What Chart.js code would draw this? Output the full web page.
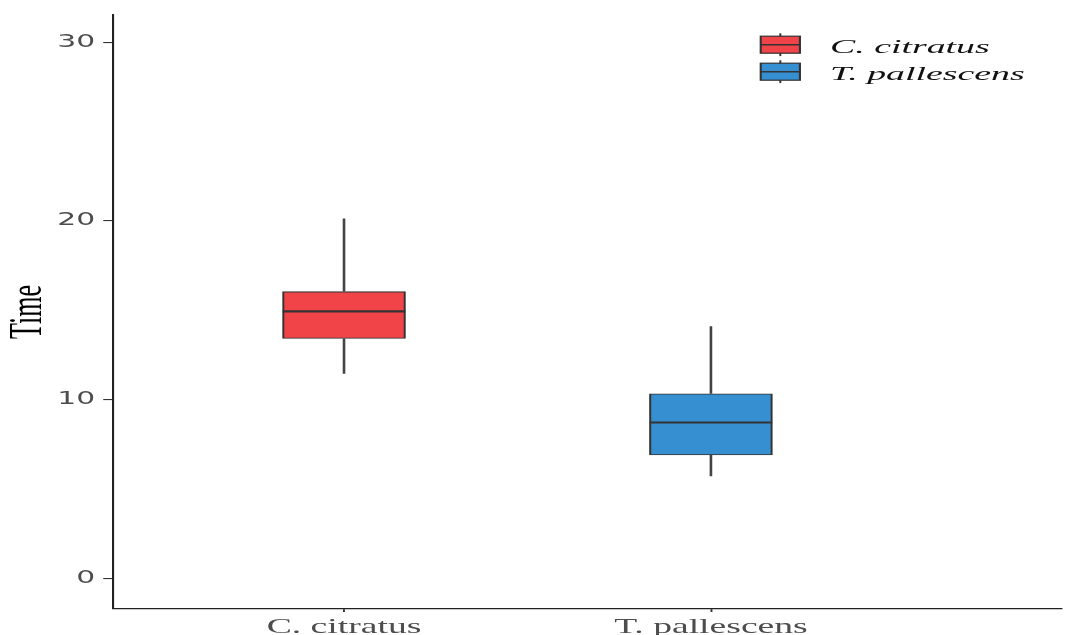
<!DOCTYPE html>
<html>
<head>
<meta charset="utf-8">
<script src="https://cdn.jsdelivr.net/npm/chart.js@4/dist/chart.umd.min.js"></script>
<style>
  html, body { margin: 0; padding: 0; background: #ffffff; }
  canvas { display: block; }
</style>
</head>
<body>
<canvas id="chart" width="1065" height="635"></canvas>
<script>
// Box-plot summaries for each species
const species      = ['C. citratus', 'T. pallescens'];
const positions    = [1, 2];
const whiskerLow   = [11.44, 5.70];
const quartile1    = [13.41, 6.89];
const medians      = [14.93, 8.71];
const quartile3    = [16.04, 10.32];
const whiskerHigh  = [20.13, 14.09];
const boxColors    = ['#F04448', '#368FD0'];
const yTicks       = [0, 10, 20, 30];

// The whole figure is drawn with a horizontal stretch
const STRETCH = 1.75;
const SERIF = "'Liberation Serif', 'Times New Roman', serif";
const SANS  = "'DejaVu Sans', Verdana, sans-serif";
const LINE  = '#333333';

// Legend layout (in unstretched units)
const LEGEND = { x: 434.7, w: 22.4, h: 17, top: 44.7, gap: 27, stub: 11.4, textX: 474.3, baseline: 8.3 };

const stretchPlugin = {
  id: 'stretch',
  beforeDraw(chart) {
    chart.ctx.save();
    chart.ctx.setTransform(STRETCH, 0, 0, 1, 0, 0);
  },
  afterDraw(chart) {
    drawLegend(chart);
    chart.ctx.restore();
  }
};

const boxPlugin = {
  id: 'boxParts',
  beforeDatasetsDraw(chart) {
    const ctx = chart.ctx, ys = chart.scales.y;
    ctx.save();
    ctx.strokeStyle = '#444444';
    ctx.lineWidth = 1.5;
    species.forEach((_, i) => {
      const bar = chart.getDatasetMeta(i).data[0];
      ctx.beginPath();
      ctx.moveTo(bar.x, ys.getPixelForValue(quartile3[i]));
      ctx.lineTo(bar.x, ys.getPixelForValue(whiskerHigh[i]));
      ctx.moveTo(bar.x, ys.getPixelForValue(quartile1[i]));
      ctx.lineTo(bar.x, ys.getPixelForValue(whiskerLow[i]));
      ctx.stroke();
    });
    ctx.restore();
  },
  afterDatasetsDraw(chart) {
    const ctx = chart.ctx, ys = chart.scales.y;
    ctx.save();
    ctx.strokeStyle = LINE;
    ctx.lineWidth = 2.2;
    species.forEach((_, i) => {
      const bar = chart.getDatasetMeta(i).data[0];
      const half = bar.width / 2;
      const py = ys.getPixelForValue(medians[i]);
      ctx.beginPath();
      ctx.moveTo(bar.x - half, py);
      ctx.lineTo(bar.x + half, py);
      ctx.stroke();
    });
    ctx.restore();
  }
};

function drawLegend(chart) {
  const ctx = chart.ctx;
  species.forEach((name, i) => {
    const cy = LEGEND.top + i * LEGEND.gap;
    const cx = LEGEND.x + LEGEND.w / 2;
    ctx.save();
    ctx.strokeStyle = LINE;
    ctx.lineWidth = 1.1;
    ctx.beginPath();
    ctx.moveTo(cx, cy - LEGEND.stub);
    ctx.lineTo(cx, cy + LEGEND.stub);
    ctx.stroke();
    ctx.fillStyle = boxColors[i];
    ctx.fillRect(LEGEND.x, cy - LEGEND.h / 2, LEGEND.w, LEGEND.h);
    ctx.lineWidth = 1.2;
    ctx.strokeRect(LEGEND.x, cy - LEGEND.h / 2, LEGEND.w, LEGEND.h);
    ctx.lineWidth = 1.6;
    ctx.beginPath();
    ctx.moveTo(LEGEND.x, cy);
    ctx.lineTo(LEGEND.x + LEGEND.w, cy);
    ctx.stroke();
    ctx.translate(LEGEND.textX, cy + LEGEND.baseline);
    ctx.scale(1.2, 1);
    ctx.font = "italic 18px " + SERIF;
    ctx.fillStyle = '#111111';
    ctx.textBaseline = 'alphabetic';
    ctx.textAlign = 'left';
    ctx.fillText(name, 0, 0);
    ctx.restore();
  });
}

const datasets = species.map((name, i) => ({
  label: name,
  data: [{ x: positions[i], y: [quartile1[i], quartile3[i]] }],
  backgroundColor: boxColors[i],
  borderColor: LINE,
  borderWidth: 1.2,
  borderSkipped: false,
  grouped: false,
  barThickness: 70
}));

new Chart(document.getElementById('chart'), {
  type: 'bar',
  data: { datasets },
  plugins: [stretchPlugin, boxPlugin],
  options: {
    responsive: false,
    animation: false,
    devicePixelRatio: 1,
    layout: { padding: { left: 0, top: 12, right: 458.1, bottom: 0 } },
    plugins: { legend: { display: false }, tooltip: { enabled: false }, title: { display: false } },
    scales: {
      x: {
        type: 'linear',
        min: 0.371,
        max: 2.957,
        offset: false,
        afterBuildTicks: s => { s.ticks = positions.map(v => ({ value: v })); },
        afterFit: s => { s.height = 26; },
        grid: { display: true, offset: false, drawOnChartArea: false, drawTicks: true, tickLength: 3, color: LINE, lineWidth: 1.1 },
        border: { display: true, color: '#222222', width: 1.2 },
        ticks: {
          callback: v => species[positions.indexOf(v)] ?? '',
          padding: 2,
          autoSkip: false,
          maxRotation: 0,
          color: '#4d4d4d',
          font: { family: SERIF, size: 21.5 }
        }
      },
      y: {
        min: -1.73,
        max: 31.53,
        afterBuildTicks: s => { s.ticks = yTicks.map(v => ({ value: v })); },
        afterFit: s => { s.width = 64.7; },
        grid: { display: true, drawOnChartArea: false, drawTicks: true, tickLength: 5.7, color: LINE, lineWidth: 1.1 },
        border: { display: true, color: '#222222', width: 1.2 },
        ticks: {
          padding: 4.6,
          color: '#4d4d4d',
          font: { family: SANS, size: 17 }
        },
        title: {
          display: true,
          text: 'Time',
          color: '#000000',
          padding: { top: 1, bottom: 0 },
          font: { family: SERIF, size: 26 }
        }
      }
    }
  }
});
</script>
</body>
</html>
